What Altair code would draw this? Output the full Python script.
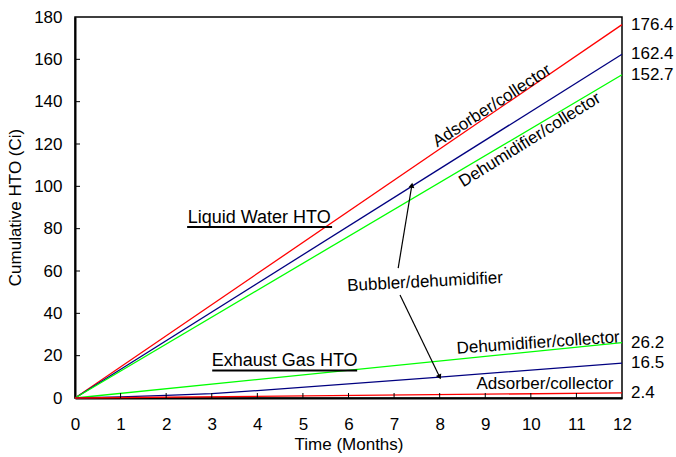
import altair as alt
import pandas as pd

# ---- data ----
months_lin = [0, 12]
liquid_adsorber = [0, 176.4]
liquid_bubbler = [0, 162.4]
liquid_dehum = [0, 152.7]
exhaust_dehum = [0, 26.2]
exhaust_adsorber = [0, 2.4]
months_exh_bub = [0, 1, 2, 3, 4, 8, 12]
exhaust_bubbler = [0, 0.5, 1.2, 2.1, 3.5, 9.9, 16.5]

end_values = [176.4, 162.4, 152.7, 26.2, 16.5, 2.4]
end_labels = ["176.4", "162.4", "152.7", "26.2", "16.5", "2.4"]

x_ticks = list(range(0, 13))
y_ticks = list(range(0, 181, 20))

FONT = "Liberation Sans"

rows = []
def add(name, xs, ys, color):
    for x, y in zip(xs, ys):
        rows.append({"series": name, "x": x, "y": y, "color": color})

add("liq_ads", months_lin, liquid_adsorber, "#FF0000")
add("liq_bub", months_lin, liquid_bubbler, "#000080")
add("liq_deh", months_lin, liquid_dehum, "#00FF00")
add("exh_deh", months_lin, exhaust_dehum, "#00FF00")
add("exh_bub", months_exh_bub, exhaust_bubbler, "#000080")
add("exh_ads", months_lin, exhaust_adsorber, "#FF0000")
lines_df = pd.DataFrame(rows)

xs = alt.Scale(domain=[0, 12], nice=False, zero=False)
ys = alt.Scale(domain=[0, 180], nice=False)

base_x = alt.X("x:Q", scale=xs, axis=alt.Axis(values=x_ticks, title="Time (Months)",
                                                labelPadding=18, titleY=46, labelFlush=False,
                                                titleBaseline="middle"))
base_y = alt.Y("y:Q", scale=ys, axis=alt.Axis(values=y_ticks, title="Cumulative HTO (Ci)",
                                                labelPadding=13, titleX=-60, titleY=190,
                                                labelFlush=False,
                                                titleAngle=270, titleAlign="center",
                                                titleBaseline="middle"))

lines = alt.Chart(lines_df).mark_line(strokeWidth=1.3).encode(
    x=base_x, y=base_y,
    color=alt.Color("color:N", scale=None),
    detail="series:N",
)

# inward ticks
xt = pd.DataFrame({"x": x_ticks[1:-1]})
xtick = alt.Chart(xt).mark_rule(color="black", strokeWidth=1).encode(
    x=alt.X("x:Q", scale=xs), y=alt.value(381), y2=alt.value(376))
yt = pd.DataFrame({"y": y_ticks[1:-1]})
ytick = alt.Chart(yt).mark_rule(color="black", strokeWidth=1).encode(
    y=alt.Y("y:Q", scale=ys), x=alt.value(0), x2=alt.value(5))

# end labels
end_df = pd.DataFrame({"x": [12] * len(end_values), "y": end_values, "t": end_labels})
ends = alt.Chart(end_df).mark_text(align="left", baseline="middle", dx=9,
                                   font=FONT, fontSize=17, color="black").encode(
    x=alt.X("x:Q", scale=xs), y=alt.Y("y:Q", scale=ys), text="t:N")

# annotations
ann_df = pd.DataFrame({
    "t": ["Adsorber/collector", "Dehumidifier/collector", "Bubbler/dehumidifier",
          "Dehumidifier/collector", "Adsorber/collector"],
    "x": [9.15, 9.98, 7.68, 10.16, 10.31],
    "y": [138.0, 121.9, 54.8, 26.0, 6.6],
    "a": [327, 328, 357, 356, 0],
})
ann = alt.Chart(ann_df).mark_text(align="center", baseline="middle",
                                  font=FONT, fontSize=17, color="black").encode(
    x=alt.X("x:Q", scale=xs), y=alt.Y("y:Q", scale=ys), text="t:N",
    angle=alt.Angle("a:Q", scale=None))

head_df = pd.DataFrame({
    "t": ["Liquid Water HTO", "Exhaust Gas HTO"],
    "x": [4.04, 4.60], "y": [85.0, 17.5],
    "x1": [2.46, 3.01], "x2": [5.64, 6.19], "u": [80.8, 13.0],
})
heads = alt.Chart(head_df).mark_text(align="center", baseline="middle",
                                     font=FONT, fontSize=18, color="black").encode(
    x=alt.X("x:Q", scale=xs), y=alt.Y("y:Q", scale=ys), text="t:N")
underline = alt.Chart(head_df).mark_rule(color="black", strokeWidth=2).encode(
    x=alt.X("x1:Q", scale=xs), x2="x2:Q", y=alt.Y("u:Q", scale=ys))

# arrows
arr_df = pd.DataFrame({
    "x": [7.09, 7.13], "y": [61.4, 48.7],
    "xh": [7.39, 8.00], "yh": [100.5, 9.9],
    "ang": [9, 154],
})
arr_lines = alt.Chart(arr_df).mark_rule(color="black", strokeWidth=1.2).encode(
    x=alt.X("x:Q", scale=xs), y=alt.Y("y:Q", scale=ys), x2="xh:Q", y2="yh:Q")
arr_heads = alt.Chart(arr_df).mark_point(shape="triangle-up", filled=True, color="black",
                                         size=35, opacity=1).encode(
    x=alt.X("xh:Q", scale=xs), y=alt.Y("yh:Q", scale=ys),
    angle=alt.Angle("ang:Q", scale=None))

chart = alt.layer(lines, xtick, ytick, ends, ann, heads, underline, arr_lines, arr_heads).properties(
    width=547, height=381,
    padding={"left": 75, "top": 17, "right": 54, "bottom": 59},
    autosize=alt.AutoSizeParams(type="none"),
    background="white",
).configure_view(stroke="black", strokeWidth=1.5).configure_axis(
    grid=False, ticks=False, domainColor="black", domainWidth=2,
    labelFont=FONT, labelFontSize=17, labelColor="black",
    titleFont=FONT, titleFontSize=17, titleColor="black", titleFontWeight="normal",
)

chart.save("out.html", embed_options={"renderer": "svg", "actions": False})
